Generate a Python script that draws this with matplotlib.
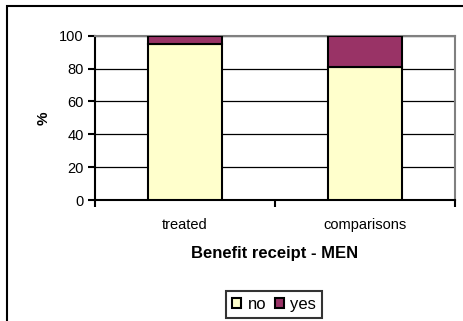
import matplotlib
matplotlib.use("Agg")
import matplotlib.pyplot as plt
from matplotlib.patches import Rectangle, Patch

plt.rcParams['font.family'] = ['Liberation Sans', 'DejaVu Sans']

categories = ["treated", "comparisons"]
no_vals = [95, 81]
yes_vals = [5, 19]
yticks = [0, 20, 40, 60, 80, 100]

W, H = 463, 321
fig = plt.figure(figsize=(W / 100, H / 100), dpi=100)

# outer chart frame
fig.patches.append(Rectangle((7 / W, -0.1), 1.2, 1 - 6 / H + 0.1, transform=fig.transFigure,
                             fill=False, edgecolor="black", linewidth=1.5, zorder=0))

ax = fig.add_axes([95 / W, 1 - 200 / H, 360 / W, (200 - 35.7) / H])
x = list(range(len(categories)))
bw = 0.41
ax.bar(x, no_vals, bw, color="#FFFFCC", edgecolor="black", linewidth=1.5, zorder=3, label="no")
ax.bar(x, yes_vals, bw, bottom=no_vals, color="#993366", edgecolor="black", linewidth=1.5,
       zorder=3, label="yes")

ax.set_xlim(-0.5, 1.5)
ax.set_ylim(0, 100)
ax.set_yticks(yticks)
ax.yaxis.grid(True, color="black", linewidth=0.9, zorder=0)
ax.set_axisbelow(True)

ax.set_xticks([-0.5, 0.5, 1.5])
ax.set_xticklabels([])
ax.set_xticks(x, minor=True)
ax.set_xticklabels(categories, minor=True)
ax.tick_params(axis="x", which="minor", length=0, pad=13, labelsize=10.5)
ax.tick_params(axis="x", which="major", length=5, width=1.5, direction="out")
ax.tick_params(axis="y", length=5, width=1.5, direction="out", labelsize=10.5, pad=3)

for s in ("left", "bottom"):
    ax.spines[s].set_color("black")
    ax.spines[s].set_linewidth(1.5)
for s in ("top", "right"):
    ax.spines[s].set_color("#808080")
    ax.spines[s].set_linewidth(1.5)

ax.set_ylabel("%", fontsize=11, fontweight="bold", labelpad=6)
ax.set_xlabel("Benefit receipt - MEN", fontsize=12, fontweight="bold", labelpad=10)

handles = [Patch(facecolor="#FFFFCC", edgecolor="black", linewidth=1.5, label="no"),
           Patch(facecolor="#993366", edgecolor="black", linewidth=1.5, label="yes")]
leg = fig.legend(handles=handles, loc="center", bbox_to_anchor=(274 / W, 1 - 304.5 / H),
                 ncol=2, fontsize=12, frameon=True, fancybox=False, handlelength=0.55,
                 handleheight=0.55, handletextpad=0.4, columnspacing=0.5, borderpad=0.35,
                 borderaxespad=0)
leg.get_frame().set_edgecolor("black")
leg.get_frame().set_linewidth(1.5)

fig.savefig("out.png", dpi=100)
